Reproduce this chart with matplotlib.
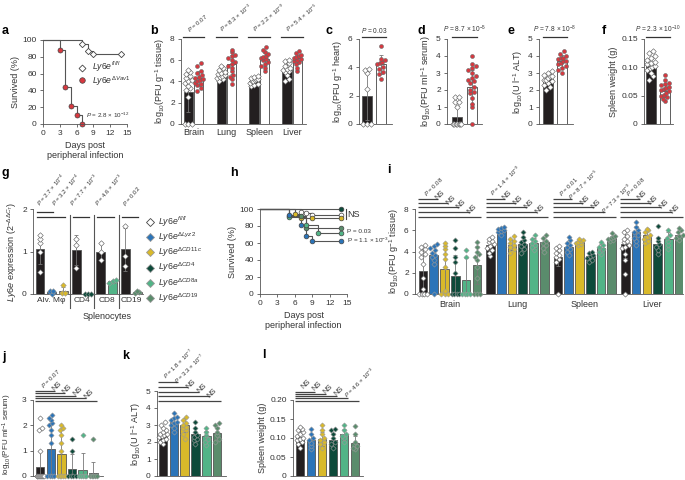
import numpy as np
import matplotlib
matplotlib.use('Agg')
import matplotlib.pyplot as plt

plt.rcParams['font.family'] = ['Liberation Sans', 'DejaVu Sans']
plt.rcParams['mathtext.fontset'] = 'custom'
plt.rcParams['mathtext.rm'] = 'Liberation Sans'
plt.rcParams['mathtext.it'] = 'Liberation Sans:italic'
plt.rcParams['mathtext.bf'] = 'Liberation Sans:bold'

# ---- data -------------------------------------------------------------
# a: survival, fl/fl vs dVav1
a_fl_t = [0, 7, 8, 9, 14]
a_fl_s = [100, 95, 87, 83, 83]
a_vav_t = [0, 3, 4, 5, 6, 7]
a_vav_s = [100, 88, 44, 22, 11, 0]

# b: viral titres per tissue
tissues = ['Brain', 'Lung', 'Spleen', 'Liver']
b_fl_mean = [3.0, 4.7, 4.0, 5.1]
b_fl_sd = [1.9, 0.5, 0.3, 0.6]
b_vav_mean = [4.3, 5.6, 6.1, 6.2]
b_vav_sd = [0.7, 0.9, 0.6, 0.6]
b_fl_pts = [[0, 0, 0, 2.5, 3.2, 3.4, 3.6, 3.9, 4.0, 4.1, 4.3, 4.5, 4.7, 4.9, 5.1],
            [4.0, 4.2, 4.3, 4.4, 4.5, 4.6, 4.7, 4.8, 4.9, 5.1, 5.3, 5.5],
            [3.6, 3.7, 3.8, 3.9, 4.0, 4.0, 4.1, 4.2, 4.2, 4.3, 4.4, 4.5],
            [4.0, 4.2, 4.6, 4.9, 5.0, 5.1, 5.2, 5.3, 5.5, 5.7, 5.9, 6.0]]
b_vav_pts = [[3.1, 3.4, 3.7, 3.8, 3.9, 4.0, 4.1, 4.2, 4.3, 4.4, 4.6, 4.8, 5.0, 5.5, 5.7],
             [3.8, 4.2, 4.4, 4.6, 5.0, 5.3, 5.5, 5.6, 5.8, 6.0, 6.2, 6.4, 6.5, 6.8, 7.0],
             [5.0, 5.3, 5.5, 5.6, 5.8, 6.0, 6.1, 6.2, 6.3, 6.4, 6.6, 6.8, 7.0, 7.2],
             [5.0, 5.3, 5.6, 5.8, 5.9, 6.0, 6.1, 6.2, 6.3, 6.4, 6.5, 6.7, 6.9]]
b_p = [r'$\it{P}$ = 0.07', r'$\it{P}$ = 8.3 × 10$^{-3}$',
       r'$\it{P}$ = 2.2 × 10$^{-9}$', r'$\it{P}$ = 5.4 × 10$^{-5}$']

# c-f: two-group panels
c_mean, c_sd = [2.0, 4.2], [1.75, 0.65]
c_pts = [[0, 0, 0, 2.5, 3.6, 3.8, 3.9],
         [3.2, 3.5, 3.7, 3.9, 4.0, 4.2, 4.3, 4.4, 4.5, 4.6, 5.5]]
d_mean, d_sd = [0.4, 2.2], [0.65, 1.0]
d_pts = [[0, 0, 0, 0, 0, 0, 0, 1.0, 1.3, 1.3, 1.6, 1.6],
         [0, 1.0, 1.2, 1.5, 1.8, 1.9, 2.0, 2.2, 2.4, 2.5, 2.6, 2.7, 2.8, 3.0, 3.2, 3.3, 3.4, 3.5, 4.0]]
e_mean, e_sd = [2.65, 3.7], [0.3, 0.35]
e_pts = [[2.0, 2.2, 2.3, 2.4, 2.5, 2.6, 2.6, 2.7, 2.8, 2.8, 2.9, 3.0, 3.1],
         [3.0, 3.2, 3.3, 3.4, 3.5, 3.6, 3.7, 3.7, 3.8, 3.9, 3.9, 4.0, 4.1, 4.3]]
f_mean, f_sd = [0.102, 0.058], [0.013, 0.011]
f_pts = [[0.078, 0.085, 0.09, 0.095, 0.098, 0.1, 0.103, 0.106, 0.108, 0.11, 0.113, 0.117, 0.12, 0.125, 0.128],
         [0.04, 0.044, 0.048, 0.05, 0.052, 0.055, 0.058, 0.06, 0.062, 0.063, 0.065, 0.068, 0.07, 0.073, 0.077, 0.087]]
c_p = r'$\it{P}$ = 0.03'
d_p = r'$\it{P}$ = 8.7 × 10$^{-5}$'
e_p = r'$\it{P}$ = 7.8 × 10$^{-8}$'
f_p = r'$\it{P}$ = 2.3 × 10$^{-10}$'

# g: Ly6e expression in sorted cells
g_mean = [1.05, 0.05, 0.06, 1.03, 0.01, 1.0, 0.3, 1.05, 0.05]
g_sd = [0.35, 0.04, 0.1, 0.35, 0.01, 0.2, 0.03, 0.5, 0.03]
g_geno = [0, 1, 2, 0, 3, 0, 4, 0, 5]
g_pts = [[0.52, 1.0, 1.2, 1.3, 1.4], [0.0, 0.07, 0.08], [0.02, 0.03, 0.22],
         [0.62, 1.15, 1.3], [0.0, 0.01, 0.01], [0.8, 1.0, 1.2],
         [0.27, 0.3, 0.33], [0.65, 0.9, 1.6], [0.02, 0.05, 0.08]]
g_cells = ['Alv. Mφ', 'CD4', 'CD8', 'CD19']
g_p = [r'$\it{P}$ = 2.7 × 10$^{-4}$', r'$\it{P}$ = 3.2 × 10$^{-4}$', r'$\it{P}$ = 7.7 × 10$^{-3}$',
       r'$\it{P}$ = 4.6 × 10$^{-3}$', r'$\it{P}$ = 0.02']

geno_labels = [r'$\it{Ly6e}^{\it{fl/fl}}$', r'$\it{Ly6e}^{\it{ΔLyz2}}$', r'$\it{Ly6e}^{\it{ΔCD11c}}$',
               r'$\it{Ly6e}^{\it{ΔCD4}}$', r'$\it{Ly6e}^{\it{ΔCD8a}}$', r'$\it{Ly6e}^{\it{ΔCD19}}$']

# h: survival of the conditional knockouts
h_t = [[0, 7, 8, 9, 14], [0, 5, 7, 8, 9, 14], [0, 6, 7, 9, 14],
       [0, 14], [0, 5, 8, 10, 14], [0, 5, 7, 8, 14]]
h_s = [[100, 97, 95, 93, 93], [100, 93, 81, 68, 62, 62], [100, 94, 89, 89, 89],
       [100, 100], [100, 90, 81, 72, 72], [100, 92, 92, 78, 78]]

# i: titres per tissue, six genotypes
i_mean = [[2.2, 3.7, 2.4, 1.65, 1.3, 2.7],
          [4.6, 5.95, 4.6, 4.75, 4.8, 4.85],
          [3.5, 4.4, 4.9, 3.6, 4.3, 5.3],
          [4.7, 5.8, 5.6, 4.7, 5.2, 5.6]]
i_sd = [[2.0, 0.8, 2.1, 2.0, 2.1, 1.8],
        [0.5, 0.2, 0.5, 0.6, 0.5, 0.5],
        [0.9, 0.5, 0.2, 0.3, 0.4, 0.2],
        [1.3, 0.6, 0.4, 0.7, 0.6, 0.3]]
i_pts = [[[0, 0, 0, 0, 0.5, 1.5, 2.8, 3.5, 3.8, 4.0, 4.2, 4.4, 4.6],
          [0, 2.8, 3.2, 3.5, 3.7, 3.9, 4.1, 4.3, 4.5, 4.7],
          [0, 0, 0, 0.3, 2.5, 3.3, 3.8, 4.2, 4.5, 4.8],
          [0, 0, 0, 0, 2.0, 3.0, 3.5, 4.3, 5.1],
          [0, 0, 0, 0, 3.5, 4.1],
          [0, 0, 0, 1.5, 2.5, 3.2, 3.5, 3.8, 4.0, 4.4, 4.9]],
         [[3.6, 3.9, 4.1, 4.3, 4.5, 4.7, 4.9, 5.0, 5.2, 5.4],
          [5.6, 5.8, 5.9, 6.0, 6.1, 6.2, 6.3],
          [3.9, 4.2, 4.4, 4.6, 4.8, 5.0, 5.2, 5.5],
          [3.9, 4.2, 4.5, 4.7, 4.9, 5.1, 5.4, 5.8],
          [4.1, 4.4, 4.6, 4.8, 5.0, 5.2, 5.6],
          [4.0, 4.3, 4.6, 4.8, 5.0, 5.3, 5.6]],
         [[0, 3.0, 3.3, 3.5, 3.7, 3.9, 4.1, 4.3, 4.5],
          [3.7, 4.0, 4.2, 4.4, 4.6, 4.8, 5.1, 5.4],
          [4.6, 4.7, 4.8, 4.9, 5.0, 5.1, 5.2],
          [3.0, 3.2, 3.4, 3.6, 3.7, 3.9, 4.0],
          [3.8, 4.0, 4.2, 4.4, 4.6, 4.9],
          [5.0, 5.1, 5.2, 5.3, 5.4, 5.5, 5.7]],
         [[0, 1.9, 3.2, 3.8, 4.3, 4.4, 4.6, 4.9, 5.0, 5.2, 5.5, 5.8, 6.0],
          [4.6, 5.0, 5.3, 5.6, 5.8, 6.0, 6.3, 6.8],
          [4.8, 5.0, 5.2, 5.4, 5.6, 5.8, 6.0, 6.1],
          [3.8, 4.1, 4.4, 4.7, 5.0, 5.3, 6.4],
          [4.2, 4.6, 5.0, 5.3, 5.6, 6.0],
          [5.1, 5.3, 5.5, 5.6, 5.8, 6.0, 6.2]]]
NS = 'NS'
i_p = [[r'$\it{P}$ = 0.08', NS, NS, NS, NS],
       [r'$\it{P}$ = 1.4 × 10$^{-9}$', NS, NS, NS, NS],
       [r'$\it{P}$ = 0.01', r'$\it{P}$ = 8.7 × 10$^{-5}$', NS, NS, r'$\it{P}$ = 7.3 × 10$^{-9}$'],
       [r'$\it{P}$ = 0.08', NS, NS, NS, NS]]

# j-l
j_mean = [0.35, 1.05, 0.85, 0.28, 0.25, 0.1]
j_sd = [0.65, 1.0, 0.95, 0.6, 0.65, 0.45]
j_pts = [[0, 0, 0, 0, 0, 0, 0, 0, 0, 1.0, 1.8, 1.9, 2.3],
         [0, 0, 0, 0, 1.3, 1.6, 1.8, 2.0, 2.1, 2.2, 2.3, 2.4],
         [0, 0, 0, 0, 0, 1.0, 1.3, 1.6, 1.8, 1.9, 2.0],
         [0, 0, 0, 0, 1.0, 1.45], [0, 0, 0, 0, 0, 1.6], [0, 0, 0, 0, 0, 1.45]]
j_p = [r'$\it{P}$ = 0.07', NS, NS, NS, NS]

k_mean = [2.45, 3.2, 3.0, 2.45, 2.35, 2.55]
k_sd = [0.35, 0.3, 0.4, 0.4, 0.3, 0.35]
k_pts = [[1.9, 2.0, 2.1, 2.2, 2.3, 2.35, 2.4, 2.45, 2.5, 2.6, 2.7, 2.8, 3.0, 3.2],
         [2.6, 2.8, 3.0, 3.1, 3.2, 3.3, 3.4, 3.5, 3.7],
         [2.2, 2.5, 2.7, 2.8, 2.9, 3.0, 3.1, 3.3, 3.5],
         [1.9, 2.1, 2.2, 2.3, 2.4, 2.6, 2.8, 3.2],
         [1.8, 2.0, 2.2, 2.4, 2.6, 2.8], [2.0, 2.2, 2.4, 2.6, 2.8, 3.0, 3.1]]
k_p = [r'$\it{P}$ = 1.8 × 10$^{-7}$', r'$\it{P}$ = 3.3 × 10$^{-7}$', NS, NS, NS]

l_mean = [0.103, 0.095, 0.098, 0.095, 0.11, 0.087]
l_sd = [0.015, 0.016, 0.018, 0.018, 0.015, 0.018]
l_pts = [[0.075, 0.085, 0.09, 0.095, 0.098, 0.1, 0.105, 0.11, 0.115, 0.12, 0.125, 0.13],
         [0.07, 0.08, 0.088, 0.095, 0.1, 0.11, 0.125],
         [0.075, 0.085, 0.09, 0.095, 0.1, 0.11, 0.12, 0.135],
         [0.075, 0.085, 0.09, 0.1, 0.11, 0.12, 0.125],
         [0.09, 0.1, 0.105, 0.11, 0.12, 0.135],
         [0.07, 0.075, 0.08, 0.09, 0.11, 0.132]]
l_p = [NS, NS, NS, NS, r'$\it{P}$ = 4.6 × 10$^{-3}$']

# ---- style ------------------------------------------------------------
BLACK = '#231f20'
RED = '#d7383f'
geno_colors = [BLACK, '#2b74b8', '#d9b92a', '#0d4a3a', '#52b487', '#5a8c6c']
TXT = '#333333'
AX = '#555555'

W, H = 685, 480
fig = plt.figure(figsize=(W / 100, H / 100), dpi=100)


def px_axes(x0, y0, x1, y1):
    return fig.add_axes([x0 / W, 1 - y1 / H, (x1 - x0) / W, (y1 - y0) / H])


def style(ax, notick_x=False):
    for s in ['top', 'right']:
        ax.spines[s].set_visible(False)
    for s in ['left', 'bottom']:
        ax.spines[s].set_color(AX)
        ax.spines[s].set_linewidth(0.6)
    ax.tick_params(direction='out', length=2.5, width=0.6, color=AX,
                   labelsize=6, labelcolor=TXT, pad=2)
    if notick_x:
        ax.tick_params(axis='x', length=0)
        ax.set_xticks([])
    ax.patch.set_alpha(0)


def ylab(ax, s, fs=6.5):
    ax.set_ylabel(s, fontsize=fs, color=TXT, labelpad=2)


def letter(x, y, s):
    fig.text(x / W, 1 - y / H, s, fontsize=9, fontweight='bold', va='center', ha='left')


def swarm(v, width, step):
    # simple beeswarm: points in the same value bin are spread sideways
    off = np.zeros(len(v))
    bins = np.round(v / step)
    for b in np.unique(bins):
        idx = np.where(bins == b)[0]
        n = len(idx)
        if n > 1:
            d = min(width * 0.38, width * 0.85 / (n - 1))
            off[idx] = (np.arange(n) - (n - 1) / 2) * d
    return off


def bar_dots(ax, x, mean, sd, pts, face, mfc, mec, marker='D', width=0.7, edge=AX, s=8, step=0.3):
    ax.bar(x, mean, width=width, color=face, edgecolor=edge, linewidth=0.6, zorder=1)
    lo = min(sd, mean)
    ax.errorbar(x, mean, yerr=[[lo], [sd]], fmt='none', ecolor='#777777',
                elinewidth=0.6, capsize=1.2, capthick=0.6, zorder=2)
    v = np.sort(np.asarray(pts, float))
    ax.scatter(x + swarm(v, width, step), v, s=s, marker=marker, facecolor=mfc, edgecolor=mec,
               linewidth=0.4, zorder=3, clip_on=False)


def two_group(ax, mean, sd, pts, ylim, yticks, p, label, ticklabels=None):
    st = ylim[1] * 0.06
    bar_dots(ax, 0, mean[0], sd[0], pts[0], BLACK, 'white', '#555555', 'D', step=st)
    bar_dots(ax, 1, mean[1], sd[1], pts[1], 'white', RED, '#666666', 'o', edge='#444444', step=st)
    ax.set_ylim(*ylim)
    ax.set_yticks(yticks)
    if ticklabels:
        ax.set_yticklabels(ticklabels)
    style(ax, notick_x=True)
    ylab(ax, label)
    ytop = ylim[1] * 1.025
    ax.plot([-0.35, 1.35], [ytop, ytop], color='#333333', lw=0.9, clip_on=False)
    ax.text(0.5, ylim[1] * 1.05, p, fontsize=4.8, color=TXT, ha='center', va='bottom')


def stacked_p(ax, x0, ends, ys, labels, dy):
    for xe, y, lab in zip(ends, ys, labels):
        ax.plot([x0 - 0.45, xe + 0.35], [y, y], color='#444444', lw=0.9,
                clip_on=False, solid_capstyle='butt')
        fs = 5.5 if lab == NS else 4.3
        ax.text(xe - 0.55, y + dy, lab, rotation=45, rotation_mode='anchor',
                ha='left', va='bottom', fontsize=fs, color=TXT, clip_on=False)


def survival(ax):
    ax.set_xlim(0, 15)
    ax.set_ylim(0, 100)
    ax.set_xticks([0, 3, 6, 9, 12, 15])
    ax.set_yticks([0, 20, 40, 60, 80, 100])
    style(ax)
    ylab(ax, 'Survived (%)')
    ax.set_xlabel('Days post\nperipheral infection', fontsize=6.5, color=TXT, labelpad=3,
                  linespacing=1.1)


# ---- a ----------------------------------------------------------------
ax = px_axes(43, 40, 127, 124)
ax.step(a_fl_t, a_fl_s, where='post', color='#555555', lw=0.8, clip_on=False)
ax.step(a_vav_t, a_vav_s, where='post', color='#555555', lw=0.8, clip_on=False)
ax.plot(a_fl_t[1:], a_fl_s[1:], 'D', ms=3.2, mfc='white', mec='#444444', mew=0.6, clip_on=False)
ax.plot(a_vav_t[1:], a_vav_s[1:], 'o', ms=3.6, mfc=RED, mec='#444444', mew=0.5, clip_on=False)
survival(ax)
ax.plot([0.47], [0.67], 'D', ms=3.5, mfc='white', mec='#444444', mew=0.6, transform=ax.transAxes, clip_on=False)
ax.plot([0.47], [0.52], 'o', ms=4, mfc=RED, mec='#444444', mew=0.5, transform=ax.transAxes, clip_on=False)
ax.text(0.58, 0.675, geno_labels[0], fontsize=6.2, color=TXT, va='center', transform=ax.transAxes)
ax.text(0.58, 0.515, r'$\it{Ly6e}^{\it{ΔVav1}}$', fontsize=6.2, color=TXT, va='center', transform=ax.transAxes)
ax.text(7.6, 5, r'$\it{P}$ = 2.8 × 10$^{-12}$', fontsize=4.5, color=TXT, va='bottom')
letter(2, 31, 'a')

# ---- b ----------------------------------------------------------------
ax = px_axes(181, 39, 306, 124)
for i in range(4):
    bar_dots(ax, i - 0.16, b_fl_mean[i], b_fl_sd[i], b_fl_pts[i], BLACK, 'white', '#555555', 'D',
             width=0.28, step=0.4)
    bar_dots(ax, i + 0.16, b_vav_mean[i], b_vav_sd[i], b_vav_pts[i], 'white', RED, '#666666', 'o',
             width=0.28, edge='#444444', step=0.4)
    ax.plot([i - 0.33, i + 0.33], [8.2, 8.2], color='#333333', lw=0.9, clip_on=False)
    ax.text(i - 0.08, 8.45, b_p[i], rotation=40, rotation_mode='anchor', fontsize=4.3,
            color=TXT, ha='left', va='bottom')
ax.set_xlim(-0.38, 3.42)
ax.set_ylim(0, 8)
ax.set_yticks([0, 2, 4, 6, 8])
style(ax)
ax.set_xticks(range(4))
ax.set_xticklabels(tissues, fontsize=6.5)
ax.tick_params(axis='x', length=0, pad=3)
ylab(ax, r'log$_{10}$(PFU g$^{-1}$ tissue)')
letter(150, 31, 'b')

# ---- c-f --------------------------------------------------------------
ax = px_axes(359, 39, 392, 124)
ax.set_xlim(-0.57, 1.79)
two_group(ax, c_mean, c_sd, c_pts, (0, 6), [0, 2, 4, 6], c_p, r'log$_{10}$(PFU g$^{-1}$ heart)')
letter(326, 31, 'c')

ax = px_axes(447, 39, 482, 124)
ax.set_xlim(-0.67, 1.67)
two_group(ax, d_mean, d_sd, d_pts, (0, 5), [0, 1, 2, 3, 4, 5], d_p, r'log$_{10}$(PFU ml$^{-1}$ serum)')
letter(417, 31, 'd')

ax = px_axes(539, 39, 573, 124)
ax.set_xlim(-0.64, 1.79)
two_group(ax, e_mean, e_sd, e_pts, (0, 5), [0, 1, 2, 3, 4, 5], e_p, r'log$_{10}$(U l$^{-1}$ ALT)')
letter(507, 31, 'e')

ax = px_axes(644, 39, 673, 124)
ax.set_xlim(-0.5, 1.57)
two_group(ax, f_mean, f_sd, f_pts, (0, 0.15), [0, 0.05, 0.10, 0.15], f_p, 'Spleen weight (g)',
          ['0', '0.05', '0.10', '0.15'])
letter(602, 31, 'f')

# ---- g ----------------------------------------------------------------
ax = px_axes(33, 209, 143, 294)
g_x = [0, 1, 2, 3.1, 4.1, 5.2, 6.2, 7.3, 8.3]
for k, x in enumerate(g_x):
    gi = g_geno[k]
    mfc = 'white' if gi == 0 else geno_colors[gi]
    mec = '#555555' if gi == 0 else '#999999'
    bar_dots(ax, x, g_mean[k], g_sd[k], g_pts[k], geno_colors[gi], mfc, mec, 'D', width=0.75, step=0.1)
ax.set_xlim(-0.6, 8.8)
ax.set_ylim(0, 2)
ax.set_yticks([0, 1, 2])
style(ax, notick_x=True)
ylab(ax, r'$\it{Ly6e}$ expression (2$^{-ΔΔC_{T}}$)')
for sx in [2.55, 4.65, 6.75]:
    ax.plot([sx, sx], [-0.32, 1.87], color='#555555', lw=0.8, clip_on=False)
for lab, cx in zip(g_cells, [1.0, 3.6, 5.7, 7.8]):
    ax.text(cx, -0.08, lab, fontsize=6, color=TXT, ha='center', va='top')
ax.text(5.7, -0.42, 'Splenocytes', fontsize=6.5, color=TXT, ha='center', va='top')
g_lines = [(0, 1, 1.93), (0, 2, 1.8), (3.1, 4.1, 1.8), (5.2, 6.2, 1.8), (7.3, 8.3, 1.8)]
g_tx = [0.2, 1.45, 3.0, 5.1, 7.4]
for (x0, x1, y), tx, lab in zip(g_lines, g_tx, g_p):
    ax.plot([x0 - 0.3, x1 + 0.1], [y, y], color='#333333', lw=0.9, clip_on=False)
    ax.text(tx, 2.02, lab, rotation=50, rotation_mode='anchor', fontsize=4.3, color=TXT,
            ha='left', va='bottom')
letter(2, 173, 'g')

# genotype legend
for k in range(6):
    yy = 1 - (222 + 15.2 * k) / H
    mfc = 'white' if k == 0 else geno_colors[k]
    mec = '#444444' if k == 0 else '#999999'
    fig.add_artist(matplotlib.lines.Line2D([150 / W], [yy], marker='D', ms=3.6, mfc=mfc, mec=mec,
                                           mew=0.6, ls='', transform=fig.transFigure))
    fig.text(158 / W, yy, geno_labels[k], fontsize=6.3, color=TXT, va='center', ha='left')

# ---- h ----------------------------------------------------------------
ax = px_axes(260, 209, 347, 294)
draw_order = [3, 0, 2, 5, 4, 1]
for k in draw_order:
    ax.step(h_t[k], h_s[k], where='post', color='#555555', lw=0.8, clip_on=False)
for k in draw_order:
    mfc = 'white' if k == 0 else geno_colors[k]
    ax.plot(h_t[k][1:], h_s[k][1:], 'o', ms=3.4, mfc=mfc, mec='#444444', mew=0.5, clip_on=False, zorder=3)
survival(ax)
ax.plot([14.75, 14.75], [100, 88], color='#444444', lw=0.8, clip_on=False)
ax.text(15.0, 94, 'NS', fontsize=6.5, color=TXT, va='center')
ax.text(15.0, 73, 'P = 0.03', fontsize=4.6, color=TXT, va='center')
ax.text(15.0, 63, r'P = 1.1 × 10$^{-3}$', fontsize=4.6, color=TXT, va='center')
letter(230, 173, 'h')


# ---- multi genotype bar panels ---------------------------------------
def six_bars(ax, x0, mean, sd, pts, step, width=0.8):
    for k in range(6):
        mfc = 'white' if k == 0 else geno_colors[k]
        mec = '#555555' if k == 0 else '#9a9a9a'
        bar_dots(ax, x0 + k, mean[k], sd[k], pts[k], geno_colors[k], mfc, mec, 'D',
                 width=width, s=7, step=step)


ax = px_axes(415, 209, 683, 294)
i_ys = [8.95, 8.55, 8.15, 7.75, 7.25]
for g in range(4):
    x0 = g * 6.25
    six_bars(ax, x0, i_mean[g], i_sd[g], i_pts[g], 0.45)
    stacked_p(ax, x0, [x0 + k for k in range(1, 6)], i_ys, i_p[g], 0.12)
ax.set_xlim(-0.74, 24.1)
ax.set_ylim(0, 8)
ax.set_yticks([0, 2, 4, 6, 8])
style(ax)
ax.set_xticks([g * 6.25 + 2.5 for g in range(4)])
ax.set_xticklabels(tissues, fontsize=6.5)
ax.tick_params(axis='x', length=0, pad=4)
ylab(ax, r'log$_{10}$(PFU g$^{-1}$ tissue)')
letter(387, 170, 'i')

ax = px_axes(33, 400, 103, 476)
six_bars(ax, 0, j_mean, j_sd, j_pts, 0.17)
stacked_p(ax, 0, [1, 2, 3, 4, 5], [3.36, 3.26, 3.16, 3.06, 2.96], j_p, 0.04)
ax.set_xlim(-0.67, 5.9)
ax.set_ylim(0, 3)
ax.set_yticks([0, 1, 2, 3])
style(ax, notick_x=True)
ylab(ax, r'log$_{10}$(PFU ml$^{-1}$ serum)', fs=5.8)
ax.yaxis.set_label_coords(-0.27, 0.55)
letter(2, 357, 'j')

ax = px_axes(157, 391, 226, 476)
six_bars(ax, 0, k_mean, k_sd, k_pts, 0.26)
stacked_p(ax, 0, [1, 2, 3, 4, 5], [5.53, 5.24, 4.96, 4.7, 4.41], k_p, 0.07)
ax.set_xlim(-0.56, 5.83)
ax.set_ylim(0, 5)
ax.set_yticks([0, 1, 2, 3, 4, 5])
style(ax, notick_x=True)
ylab(ax, r'log$_{10}$(U l$^{-1}$ ALT)')
letter(122, 356, 'k')

ax = px_axes(293, 400, 363, 476)
six_bars(ax, 0, l_mean, l_sd, l_pts, 0.011)
stacked_p(ax, 0, [1, 2, 3, 4, 5], [0.222, 0.216, 0.21, 0.204, 0.198], l_p, 0.003)
ax.set_xlim(-0.64, 5.72)
ax.set_ylim(0, 0.2)
ax.set_yticks([0, 0.05, 0.10, 0.15, 0.20])
ax.set_yticklabels(['0', '0.05', '0.10', '0.15', '0.20'])
style(ax, notick_x=True)
ylab(ax, 'Spleen weight (g)')
letter(262, 355, 'l')

fig.savefig('out.png', dpi=100)
